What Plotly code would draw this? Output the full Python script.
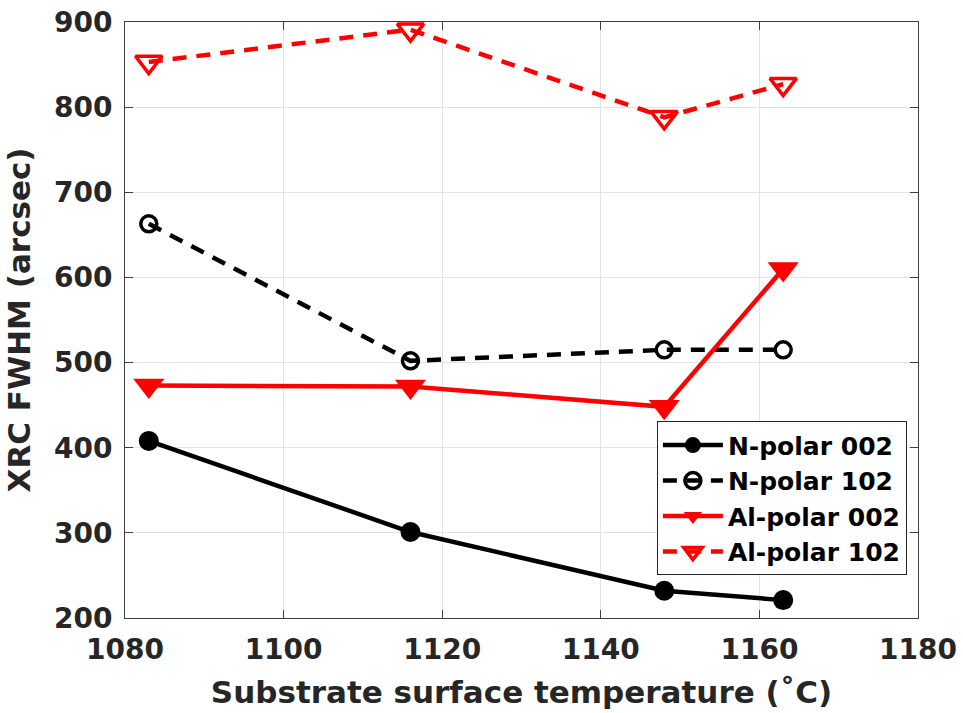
import plotly.graph_objects as go

temps = [1083, 1116, 1148, 1163]
n_polar_002 = [408, 301, 232, 221]
n_polar_102 = [663, 502, 515, 515]
al_polar_002 = [473, 472, 448, 610]
al_polar_102 = [853, 891, 788, 827]

x_ticks = [1080, 1100, 1120, 1140, 1160, 1180]
y_ticks = [200, 300, 400, 500, 600, 700, 800, 900]

FONT = "DejaVu Sans"
TXT = "#262626"

fig = go.Figure()
fig.add_trace(go.Scatter(
    x=temps, y=n_polar_002, name="N-polar 002", mode="lines+markers",
    line=dict(color="black", width=4.5),
    marker=dict(symbol="circle", size=20, color="black")))
fig.add_trace(go.Scatter(
    x=temps, y=n_polar_102, name="N-polar 102", mode="lines+markers",
    line=dict(color="black", width=4.5, dash="14px,10px"),
    marker=dict(symbol="circle-open", size=16, color="black", line=dict(width=3.5))))
fig.add_trace(go.Scatter(
    x=temps, y=al_polar_002, name="Al-polar 002", mode="lines+markers",
    line=dict(color="#ff0000", width=4.5),
    marker=dict(symbol="triangle-down", size=27, color="#ff0000")))
fig.add_trace(go.Scatter(
    x=temps, y=al_polar_102, name="Al-polar 102", mode="lines+markers",
    line=dict(color="#ff0000", width=4.5, dash="14px,10px"),
    marker=dict(symbol="triangle-down-open", size=23, color="#ff0000", line=dict(width=3.5))))

axis_common = dict(
    showline=True, linecolor="#404040", linewidth=1, mirror="ticks",
    ticks="inside", ticklen=8, tickwidth=1, tickcolor="#404040",
    showgrid=True, gridcolor="#e3e3e3", gridwidth=1, zeroline=False,
    automargin=False,
    tickfont=dict(family=FONT, size=28, color=TXT, weight="bold"),
)

fig.update_layout(
    width=963, height=713,
    margin=dict(l=125, r=45, t=22, b=95),
    paper_bgcolor="white", plot_bgcolor="white",
    font=dict(family=FONT, color=TXT),
    xaxis=dict(range=[1080, 1180], tickvals=x_ticks, ticktext=[str(v) for v in x_ticks],
               ticklabelstandoff=6,
               title=dict(text="Substrate surface temperature (˚C)", standoff=16,
                          font=dict(family=FONT, size=31, color=TXT, weight="bold")),
               **axis_common),
    yaxis=dict(range=[200, 900], tickvals=y_ticks, ticktext=[str(v) for v in y_ticks],
               ticklabelstandoff=6,
               title=dict(text="XRC FWHM (arcsec)", standoff=14,
                          font=dict(family=FONT, size=31, color=TXT, weight="bold")),
               **axis_common),
    legend=dict(x=0.986, y=0.33, xanchor="right", yanchor="top",
                bgcolor="white", bordercolor="#262626", borderwidth=1,
                font=dict(family=FONT, size=25, color="black", weight="bold"),
                tracegroupgap=0, itemwidth=60),
    showlegend=True,
)

fig.write_html("out.html")
